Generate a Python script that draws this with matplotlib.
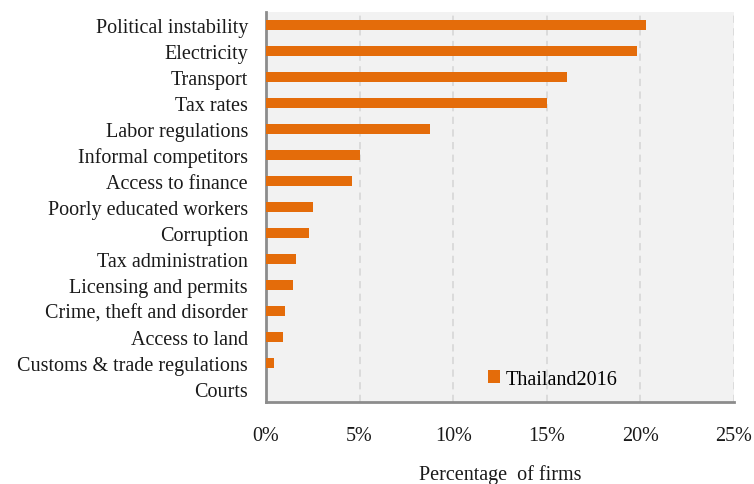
import numpy as np
import matplotlib.pyplot as plt
from matplotlib.ticker import FuncFormatter

# obstacle categories, top to bottom
categories = [
    "Political instability", "Electricity", "Transport", "Tax rates",
    "Labor regulations", "Informal competitors", "Access to finance",
    "Poorly educated workers", "Corruption", "Tax administration",
    "Licensing and permits", "Crime, theft and disorder", "Access to land",
    "Customs & trade regulations", "Courts",
]
# percentage of firms
thailand_2016 = [20.3, 19.8, 16.1, 15.0, 8.75, 5.0, 4.6, 2.5, 2.3, 1.6,
                 1.45, 1.0, 0.9, 0.45, 0.0]
xticks = [0, 5, 10, 15, 20, 25]

plt.rcParams["font.family"] = ["Liberation Serif", "DejaVu Serif"]

fig = plt.figure(figsize=(7.54, 4.85), dpi=100)
ax = fig.add_axes([266 / 754, 1 - 403 / 485, 468 / 754, 390 / 485])

y = np.arange(len(categories))
ax.barh(y, thailand_2016, height=0.42, color="#E46C0A",
        linewidth=0, label="Thailand2016", zorder=3)

ax.set_ylim(len(categories) - 0.5, -0.5)
ax.set_yticks(y)
ax.set_yticklabels(categories, fontsize=14.5, color="#1a1a1a")
ax.set_xlim(0, 25)
ax.set_xticks(xticks)
ax.xaxis.set_major_formatter(FuncFormatter(lambda v, p: f"{v:.0f}%"))
ax.tick_params(axis="x", labelsize=14.5, colors="#1a1a1a", length=0, pad=17)
ax.tick_params(axis="y", length=0, pad=13)

ax.set_facecolor("#F2F2F2")
ax.grid(axis="x", color="#D9D9D9", linestyle=(0, (4, 3)), linewidth=1.3, zorder=0)
for s in ["top", "right"]:
    ax.spines[s].set_visible(False)
for s in ["left", "bottom"]:
    ax.spines[s].set_color("#8C8C8C")
    ax.spines[s].set_linewidth(2)

ax.set_xlabel("Percentage  of firms", fontsize=14.5, color="#1a1a1a", labelpad=14)

ax.legend(loc="lower left", bbox_to_anchor=(0.435, -0.012), frameon=False,
          fontsize=14.5, handlelength=0.6, handleheight=0.6, handletextpad=0.3)

fig.savefig("out.png", dpi=100)
